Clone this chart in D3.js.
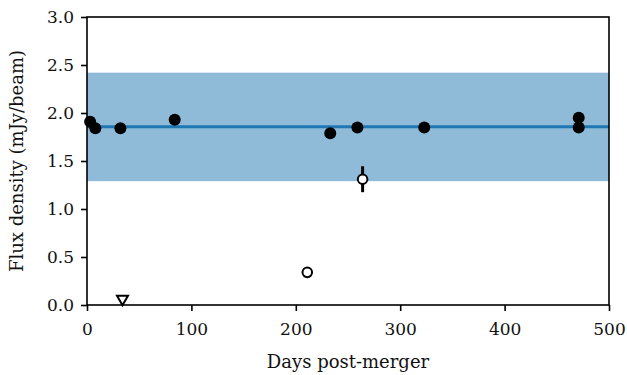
<!DOCTYPE html>
<html>
<head>
<meta charset="utf-8">
<style>
  body { margin: 0; background: white; }
  svg text { font-family: "DejaVu Serif", "Liberation Serif", serif; fill: #111; }
</style>
</head>
<body>
<svg width="627" height="375"></svg>
<script src="https://d3js.org/d3.v7.min.js"></script>
<script>
// detections (filled)
const detDays = [3, 8, 32, 84, 233, 259, 323, 471, 471];
const detFlux = [1.91, 1.84, 1.84, 1.93, 1.79, 1.85, 1.85, 1.95, 1.85];
// weaker / open points with errors
const openDays = [211, 264];
const openFlux = [0.34, 1.31];
const openErr = [0, 0.135];
// upper limit
const limDays = [34];
const limFlux = [0.05];
// mean and spread band
const meanFlux = 1.858;
const bandLow = 1.29;
const bandHigh = 2.42;

const xTicks = [0, 100, 200, 300, 400, 500];
const yTicks = [0.0, 0.5, 1.0, 1.5, 2.0, 2.5, 3.0];

const margin = {top: 17, right: 18, bottom: 70, left: 87};
const width = 627, height = 375;
const tickFs = 17, labelFs = 18;

const svg = d3.select("svg");

const x = d3.scaleLinear().domain([0, 500]).range([margin.left, width - margin.right]);
const y = d3.scaleLinear().domain([0, 3]).range([height - margin.bottom, margin.top]);

// band
svg.append("rect")
  .attr("x", x(0)).attr("width", x(500) - x(0))
  .attr("y", y(bandHigh)).attr("height", y(bandLow) - y(bandHigh))
  .attr("fill", "#8fbbd9");

// mean line
svg.append("line")
  .attr("x1", x(0)).attr("x2", x(500))
  .attr("y1", y(meanFlux)).attr("y2", y(meanFlux))
  .attr("stroke", "#1f77b4").attr("stroke-width", 3);

// filled points
svg.selectAll(".det")
  .data(detDays.map((d, i) => [d, detFlux[i]]))
  .join("circle")
  .attr("cx", d => x(d[0])).attr("cy", d => y(d[1]))
  .attr("r", 6).attr("fill", "black");

// error bars for open points
const open = openDays.map((d, i) => [d, openFlux[i], openErr[i]]);
svg.selectAll(".err")
  .data(open.filter(d => d[2] > 0))
  .join("line")
  .attr("x1", d => x(d[0])).attr("x2", d => x(d[0]))
  .attr("y1", d => y(d[1] - d[2])).attr("y2", d => y(d[1] + d[2]))
  .attr("stroke", "black").attr("stroke-width", 3);

svg.selectAll(".open")
  .data(open)
  .join("circle")
  .attr("cx", d => x(d[0])).attr("cy", d => y(d[1]))
  .attr("r", 4.8).attr("fill", "white")
  .attr("stroke", "black").attr("stroke-width", 2);

// upper limit triangle
svg.selectAll(".lim")
  .data(limDays.map((d, i) => [d, limFlux[i]]))
  .join("path")
  .attr("d", d => {
    const cx = x(d[0]), cy = y(d[1]);
    return `M${cx - 5.5},${cy - 4.5}L${cx + 5.5},${cy - 4.5}L${cx},${cy + 5}Z`;
  })
  .attr("fill", "white").attr("stroke", "black").attr("stroke-width", 2);

// axes
const xAxis = svg.append("g")
  .attr("transform", `translate(0,${height - margin.bottom})`)
  .call(d3.axisBottom(x).tickValues(xTicks).tickFormat(d3.format("d")).tickSizeOuter(0).tickSize(6).tickPadding(12));
const yAxis = svg.append("g")
  .attr("transform", `translate(${margin.left},0)`)
  .call(d3.axisLeft(y).tickValues(yTicks).tickFormat(d3.format(".1f")).tickSizeOuter(0).tickSize(6).tickPadding(7));
[xAxis, yAxis].forEach(g => {
  g.attr("font-family", null).attr("font-size", tickFs);
  g.select(".domain").remove();
  g.selectAll(".tick line").attr("stroke", "black").attr("stroke-width", 1.6);
});
yAxis.selectAll(".tick text").attr("dy", "0.35em");

// frame
svg.append("rect")
  .attr("x", x(0)).attr("y", y(3))
  .attr("width", x(500) - x(0)).attr("height", y(0) - y(3))
  .attr("fill", "none").attr("stroke", "black").attr("stroke-width", 1.6);

// axis labels
svg.append("text")
  .attr("x", (x(0) + x(500)) / 2).attr("y", 368)
  .attr("text-anchor", "middle").attr("font-size", labelFs)
  .text("Days post-merger");
svg.append("text")
  .attr("transform", `translate(23,${(y(0) + y(3)) / 2}) rotate(-90)`)
  .attr("text-anchor", "middle").attr("font-size", labelFs)
  .text("Flux density (mJy/beam)");
</script>
</body>
</html>
